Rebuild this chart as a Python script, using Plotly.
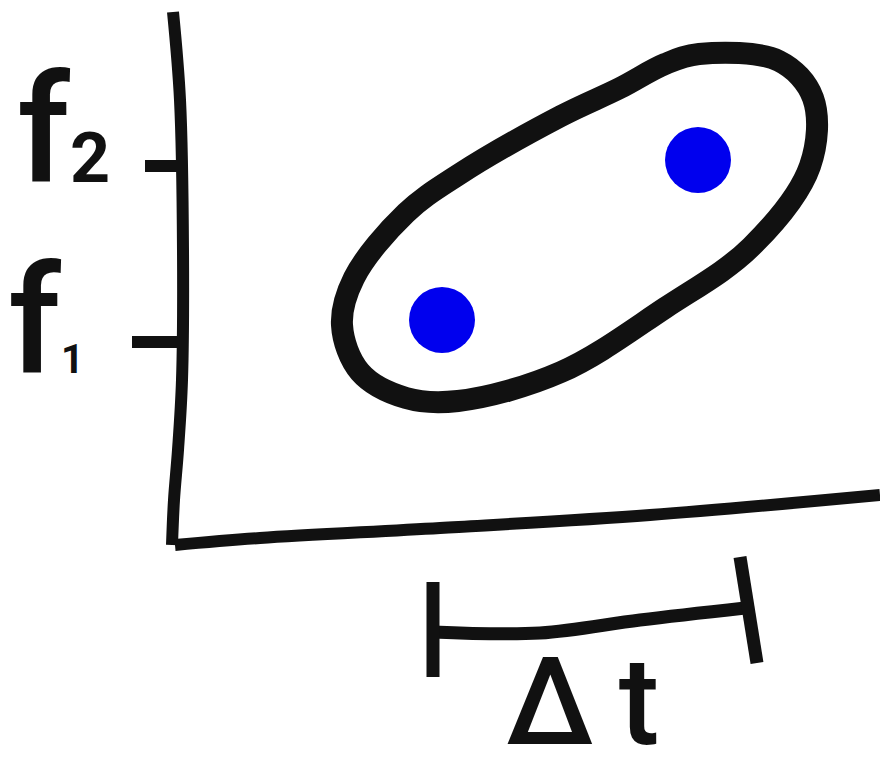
import plotly.graph_objects as go

# hand-drawn sketch, everything in pixel-like coords (y grows downward)
vaxis_x = [173, 180, 183, 182, 178, 174, 172]
vaxis_y = [12, 100, 250, 380, 450, 500, 545]
haxis_x = [175, 260, 440, 650, 880]
haxis_y = [545, 538, 528, 515, 495]

tick_y = [342, 166]
tick_x0 = [132, 145]
tick_x1 = [183, 180]
# tick labels f1 / f2, index drawn smaller next to the f
label_main = ["f", "f"]
label_sub = ["1", "2"]
sub_size = [40, 70]
label_x = [46, 63]
label_y = [322, 131]

points_t = [442, 698]
points_f = [320, 160]

blob_x = [342, 354, 406, 458, 561, 620, 665, 699, 779, 813, 810, 751, 665, 561, 458, 406, 360, 342]
blob_y = [325, 278, 213, 175, 116, 88, 64, 54, 61, 98, 166, 247, 308, 372, 401, 398, 372, 325]

bracket_x = [433, 540, 640, 745]
bracket_y = [632, 633, 620, 608]
bracket_left_x = [433, 433]
bracket_left_y = [582, 677]
bracket_right_x = [740, 757]
bracket_right_y = [557, 663]

black = "#111111"
fig = go.Figure()

def stroke(x, y, w=12, shape="spline"):
    fig.add_trace(go.Scatter(x=x, y=y, mode="lines", line=dict(color=black, width=w, shape=shape),
                             hoverinfo="skip", showlegend=False))

stroke(vaxis_x, vaxis_y, 12)
stroke(haxis_x, haxis_y, 12)
for y, a, b in zip(tick_y, tick_x0, tick_x1):
    stroke([a, b], [y, y], 12, "linear")
stroke(blob_x, blob_y, 22)
stroke(bracket_x, bracket_y, 13)
stroke(bracket_left_x, bracket_left_y, 13, "linear")
stroke(bracket_right_x, bracket_right_y, 13, "linear")

fig.add_trace(go.Scatter(x=points_t, y=points_f, mode="markers",
                         marker=dict(color="#0000ee", size=66, line=dict(width=0)),
                         hoverinfo="skip", showlegend=False))

for m, s, sz, x, y in zip(label_main, label_sub, sub_size, label_x, label_y):
    txt = f"{m}<span style='font-size:{sz}px;font-weight:700'>{s}</span>"
    fig.add_annotation(x=x, y=y, text=txt, showarrow=False, xanchor="center", yanchor="middle",
                       font=dict(family="Roboto", size=150, color=black, weight=500))

fig.add_annotation(x=582, y=775, text="Δ\u2009t", showarrow=False, xanchor="center", yanchor="bottom",
                   yshift=-1, font=dict(family="Roboto", size=122, color=black, weight=500))

fig.update_layout(width=880, height=775, margin=dict(l=0, r=0, t=0, b=0),
                  plot_bgcolor="white", paper_bgcolor="white")
fig.update_xaxes(range=[0, 880], visible=False)
fig.update_yaxes(range=[775, 0], visible=False)

fig.write_html("out.html", config={"displayModeBar": False},
               post_script="document.body.style.margin='0';")
